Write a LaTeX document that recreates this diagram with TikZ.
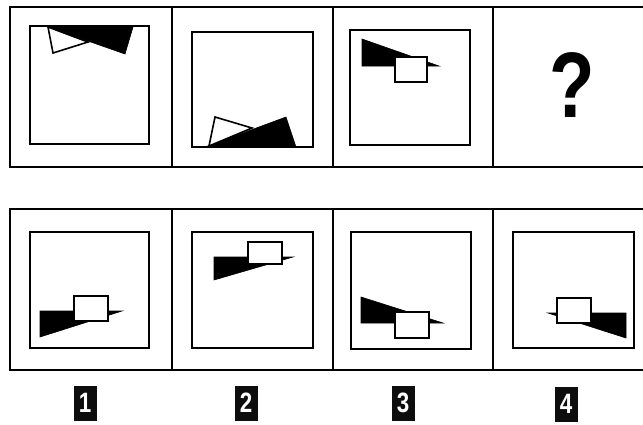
\documentclass[tikz,border=0pt]{standalone}
\usepackage{fontspec}
\setmainfont{Liberation Sans}
\begin{document}
\begin{tikzpicture}[x=1pt,y=-1pt,
  frame/.style={draw=black,line width=2pt},
  inner/.style={draw=black,line width=2pt},
  blk/.style={fill=black,draw=black,line width=0.6pt,line join=miter},
  wht/.style={fill=white,draw=black,line width=1.6pt},
  lab/.style={fill=black!95,text=white,minimum width=23pt,minimum height=35pt,inner sep=0pt,font=\fontsize{28}{28}\selectfont\bfseries}]
\useasboundingbox (0,0) rectangle (643,424);
% top row frame
\draw[frame] (10,7) rectangle (652,167);
\draw[frame] (172,7) -- (172,167);
\draw[frame] (333,7) -- (333,167);
\draw[frame] (493,7) -- (493,167);
% bottom row frame
\draw[frame] (10,209) rectangle (652,370);
\draw[frame] (172,209) -- (172,370);
\draw[frame] (333,209) -- (333,370);
\draw[frame] (493,209) -- (493,370);
% top inner squares
\draw[inner] (30,26) rectangle (149,144);
\draw[inner] (192,32) rectangle (313,147);
\draw[inner] (350,30) rectangle (470,145);
% bottom inner squares
\draw[inner] (30,232) rectangle (149,348);
\draw[inner] (192,232) rectangle (313,348);
\draw[inner] (351,232) rectangle (471,349);
\draw[inner] (513,232) rectangle (634,348);
% top panel 1
\fill[blk] (48,27) -- (133,27) -- (125,54) -- cycle;
\draw[wht] (48,27) -- (53,53) -- (88,42) -- cycle;
% top panel 2
\fill[blk] (205,147) -- (286,117) -- (296,147) -- cycle;
\draw[wht] (215,117) -- (209,146) -- (252,128) -- cycle;
% top panel 3
\fill[blk] (362,39) -- (362,66) -- (439,66) -- cycle;
\draw[wht] (395,57) rectangle (427,82);
% question mark
\node (q) at (572,85) {\fontsize{93}{93}\selectfont\bfseries\scalebox{0.8}[1]{?}};
% bottom panel 1
\fill[blk] (40,311) -- (40,337) -- (122,311) -- cycle;
\draw[wht] (74,296) rectangle (108,321);
% bottom panel 2
\fill[blk] (214,257) -- (214,280) -- (293,257) -- cycle;
\draw[wht] (248,242) rectangle (282,264);
% bottom panel 3
\fill[blk] (361,297) -- (361,323) -- (443,323) -- cycle;
\draw[wht] (395,312) rectangle (429,338);
% bottom panel 4
\fill[blk] (626,313) -- (626,338) -- (548,313) -- cycle;
\draw[wht] (557,298) rectangle (591,323);
% labels
\node[lab] (l1) at (85,403) {\scalebox{0.8}[1]{1}};
\node[lab] (l2) at (246,403) {\scalebox{0.8}[1]{2}};
\node[lab] (l3) at (403,403) {\scalebox{0.8}[1]{3}};
\node[lab] (l4) at (566,404) {\scalebox{0.8}[1]{4}};
\end{tikzpicture}
\end{document}
